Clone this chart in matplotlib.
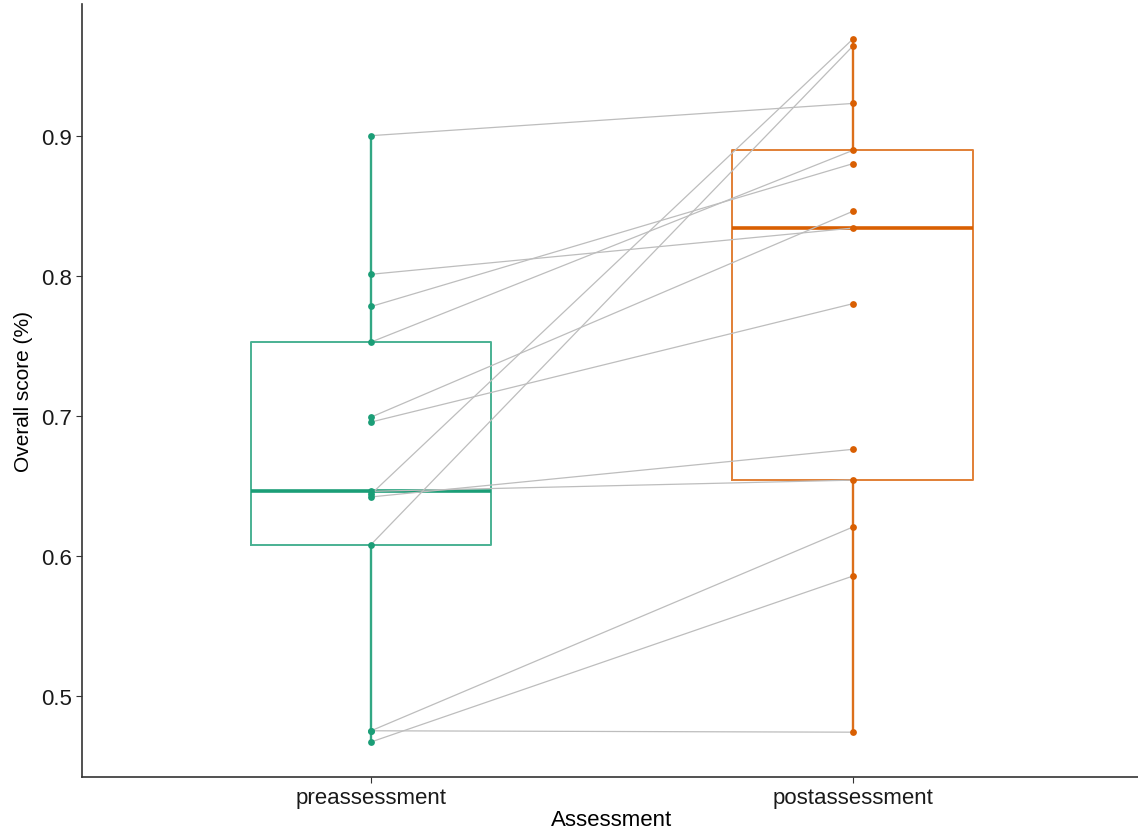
import matplotlib
matplotlib.use('Agg')
import matplotlib.pyplot as plt
import numpy as np

plt.rcParams['font.family'] = ['Liberation Sans', 'DejaVu Sans']

# Paired scores, one entry per participant (same order in both lists)
groups = ['preassessment', 'postassessment']
pre = [0.900, 0.801, 0.778, 0.7526, 0.699, 0.6955, 0.646, 0.644, 0.642,
       0.608, 0.475, 0.475, 0.467]
post = [0.923, 0.834, 0.880, 0.8895, 0.846, 0.780, 0.654, 0.969, 0.676,
        0.964, 0.6205, 0.474, 0.5855]
colors = ['#1B9E77', '#D95F02']

fig = plt.figure(figsize=(11.38, 8.37), dpi=100)
ax = fig.add_axes([0.072, 0.0705, 0.9315, 0.9235])

# Boxes with whiskers spanning the full range, no caps
bp = ax.boxplot([pre, post], positions=[1, 2], widths=0.5, whis=(0, 100),
                showcaps=False, showfliers=False, patch_artist=False)
for i, c in enumerate(colors):
    plt.setp(bp['boxes'][i], color=c, alpha=0.8, linewidth=1.4)
    plt.setp(bp['whiskers'][2 * i:2 * i + 2], color=c, alpha=0.9, linewidth=1.7)
    plt.setp(bp['medians'][i], color=c, linewidth=2.6)

# Lines joining each participant's two scores
for a, b in zip(pre, post):
    ax.plot([1, 2], [a, b], color='#BDBDBD', linewidth=0.9, zorder=3)

ax.scatter(np.ones(len(pre)), pre, s=24, color=colors[0], zorder=4, linewidths=0)
ax.scatter(np.full(len(post), 2), post, s=24, color=colors[1], zorder=4, linewidths=0)

ax.set_xlim(0.4, 2.6)
ax.set_ylim(0.442, 0.994)
ax.set_xticks([1, 2])
ax.set_xticklabels(groups)
ax.set_yticks([0.5, 0.6, 0.7, 0.8, 0.9])
ax.tick_params(labelsize=16, colors='#333333', length=4, width=0.8, pad=3)
ax.tick_params(axis='x', labelcolor='#1a1a1a')
ax.tick_params(axis='y', labelcolor='#1a1a1a')
for side in ['top', 'right']:
    ax.spines[side].set_visible(False)
for side in ['left', 'bottom']:
    ax.spines[side].set_linewidth(1.2)
    ax.spines[side].set_color('#333333')

ax.set_xlabel('Assessment', fontsize=16, labelpad=1)
ax.set_ylabel('Overall score (%)', fontsize=15, labelpad=6)

fig.savefig('out.png', dpi=100)
